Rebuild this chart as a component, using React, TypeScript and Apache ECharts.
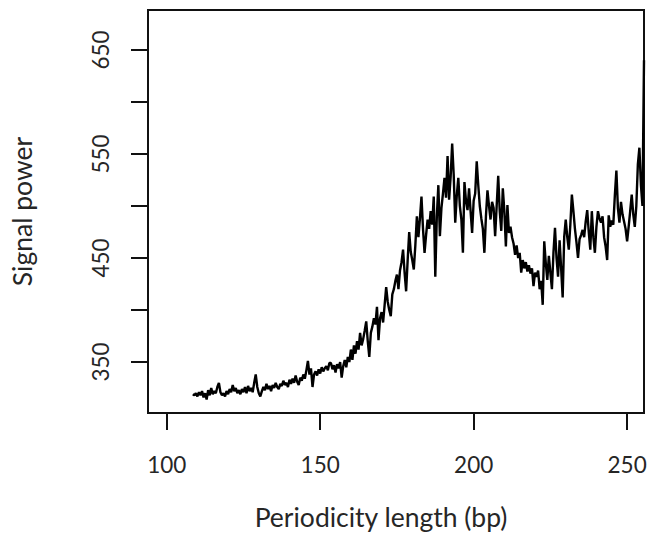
import React, { useEffect, useRef } from "react";
import * as echarts from "echarts";

// Periodicity length grid (bp): first value and step
const bpStart = 108.5;
const bpStep = 0.5;

// Signal power (0.5 bp apart)
const signalLow = [
  319, 318, 320, 317, 321, 318, 322, 316, 320, 314,
  323, 318, 325, 319, 322, 320, 326, 330, 321, 318,
  320, 317, 322, 319, 324, 321, 328, 322, 325, 320,
  323, 319, 324, 321, 326, 320, 327, 322, 325, 321,
  330, 338, 326, 320, 317, 322, 326, 323, 329, 324,
  327, 322, 328, 325, 330, 326, 324, 329, 327, 332,
  328, 330, 326, 333, 329, 334, 330, 337, 331, 328,
  335, 332, 338, 334, 342, 351, 338, 344, 326, 338,
  341, 337, 343, 339, 345, 341, 344, 346, 342, 349,
];
const signalRise = [
  349, 343, 347, 340, 348, 344, 350, 335, 346, 352,
  345, 355, 350, 362, 352, 366, 358, 370, 362, 378,
  366, 372, 380, 389, 370, 355, 378, 384, 392, 386,
  403, 371, 392, 398, 388, 405, 422, 408, 400, 394,
  415, 420, 428, 434, 420, 438, 446, 458, 436, 418,
  448, 475, 456, 448, 439, 462, 490, 470, 488, 509,
  478, 455, 472, 487, 478, 495, 482, 509, 432, 490,
  520, 471, 498, 512, 527, 508, 548, 506, 528, 560,
  530, 484, 510, 527, 500, 487, 455, 523, 505, 496,
  517, 495, 474, 505, 512, 543, 520, 500, 488, 478,
];
const signalHigh = [
  455, 490, 515, 500, 487, 504, 498, 471, 500, 529,
  495, 476, 517, 495, 461, 501, 474, 480, 470, 464,
  453, 462, 450, 455, 436, 448, 440, 446, 437, 443,
  435, 440, 423, 436, 432, 438, 420, 428, 405, 466,
  445, 429, 452, 436, 420, 455, 479, 450, 432, 467,
  440, 412, 470, 487, 470, 458, 482, 511, 495, 478,
  465, 450, 468, 472, 477, 470, 485, 496, 475, 458,
  495, 470, 455, 480, 495, 488, 484, 490, 470, 461,
  448, 491, 480, 486, 482, 510, 534, 498, 484, 504,
  492, 485, 478, 466, 480, 495, 511, 492, 480, 500,
  540, 556, 520, 500, 640,
];

const xTicks = [100, 150, 200, 250];
const yTicks = [350, 400, 450, 500, 550, 600, 650];
const yLabels = [350, 450, 550, 650];

const FONT = "Lato, 'Noto Sans', sans-serif";
const TEXT = "#262626";

export default function App() {
  const ref = useRef<HTMLDivElement>(null);
  useEffect(() => {
    if (!ref.current) return;
    const chart = echarts.init(ref.current, undefined, { renderer: "svg" });
    const values = [...signalLow, ...signalRise, ...signalHigh];
    const data = values.map((v, i) => [bpStart + i * bpStep, v]);
    chart.setOption({
      animation: false,
      backgroundColor: "#fff",
      grid: {
        left: 139,
        top: 10,
        width: 505,
        height: 403,
        show: true,
        borderColor: "#111",
        borderWidth: 2,
        backgroundColor: "transparent",
      },
      xAxis: {
        type: "value",
        min: 93.9,
        max: 255.5,
        name: "Periodicity length (bp)",
        nameLocation: "middle",
        nameGap: 90,
        nameTextStyle: { fontFamily: FONT, fontSize: 26.5, color: TEXT, padding: [0, 30, 0, 0] },
        axisLine: { show: false },
        splitLine: { show: false },
        axisTick: {
          show: true,
          inside: false,
          length: 17,
          customValues: xTicks,
          lineStyle: { color: "#111", width: 2 },
        },
        axisLabel: {
          customValues: xTicks,
          margin: 40,
          fontFamily: FONT,
          fontSize: 22.5,
          color: TEXT,
        },
      },
      yAxis: {
        type: "value",
        min: 301,
        max: 688.4,
        name: "Signal power",
        nameLocation: "middle",
        nameRotate: 90,
        nameGap: 113,
        nameTextStyle: { fontFamily: FONT, fontSize: 26.5, color: TEXT },
        axisLine: { show: false },
        splitLine: { show: false },
        axisTick: {
          show: true,
          inside: false,
          length: 17,
          customValues: yTicks,
          lineStyle: { color: "#111", width: 2 },
        },
        axisLabel: {
          customValues: yLabels,
          rotate: 90,
          margin: 36,
          fontFamily: FONT,
          fontSize: 22.5,
          color: TEXT,
        },
      },
      series: [
        {
          type: "line",
          data,
          showSymbol: false,
          clip: true,
          lineStyle: { color: "#000", width: 2.4 },
        },
      ],
    });
    return () => chart.dispose();
  }, []);
  return (
    <div
      ref={ref}
      style={{ position: "fixed", left: 0, top: 0, width: 659, height: 546 }}
    />
  );
}
